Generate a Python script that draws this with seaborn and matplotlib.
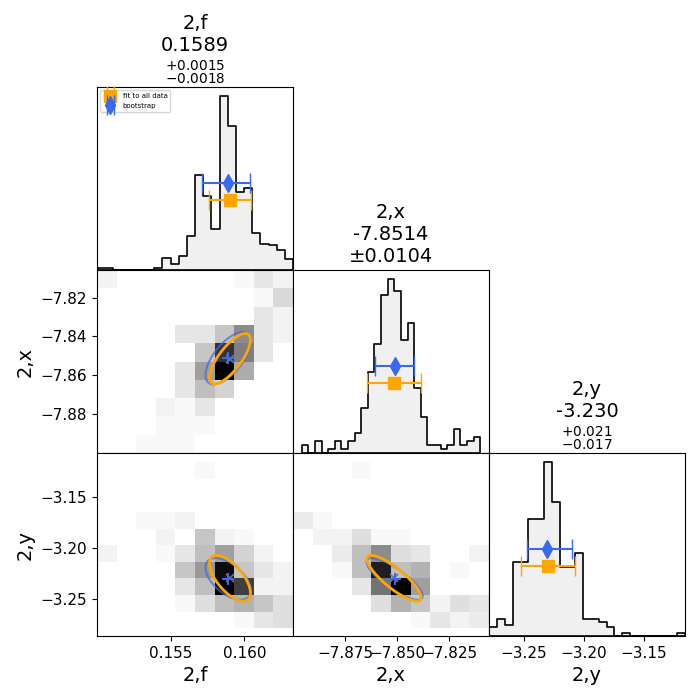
import numpy as np
import pandas as pd
import matplotlib
matplotlib.use("Agg")
import matplotlib.pyplot as plt
from matplotlib.patches import Ellipse
import seaborn as sns

# parameter names and title values
names = ["2,f", "2,x", "2,y"]
title_vals = ["0.1589", "-7.8514", "-3.230"]
title_errs = ["$^{+0.0015}_{-0.0018}$", "±0.0104", "$^{+0.021}_{-0.017}$"]

# axis ranges
lims = [(0.14995, 0.16332), (-7.9001, -7.8058), (-3.2789, -3.1156)]
row3_ylim = (-3.2866, -3.1066)
hist_ranges = [(0.14995, 0.16332), (-7.8959, -7.8100), (-3.2789, -3.1156)]

# tick values
xticks = [[0.155, 0.160], [-7.875, -7.850, -7.825], [-3.25, -3.20, -3.15]]
yticks = {1: [-7.88, -7.86, -7.84, -7.82], 2: [-3.25, -3.20, -3.15]}

# 1D histogram counts (diagonal)
f_counts = [2, 2, 0, 0, 0, 0, 0, 2, 10, 5, 12, 29, 81, 63, 35, 149, 123, 67, 70, 32, 22, 21, 17, 9]
x_counts = [2, 0, 3, 0, 1, 3, 1, 3, 5, 11, 20, 27, 39, 43, 40, 28, 32, 16, 9, 2, 2, 1, 2, 6, 2, 3, 4]
y_counts = [3, 6, 4, 26, 26, 41, 41, 61, 47, 24, 24, 29, 6, 6, 5, 3, 0, 1, 0, 0, 0, 0, 0, 0, 1]

# 2D histogram counts, rows from top (high) to bottom (low)
fx_counts = [
    [2, 0, 0, 0, 0, 0, 0, 1, 4, 2],
    [0, 0, 0, 0, 0, 0, 0, 0, 1, 6],
    [0, 0, 0, 0, 0, 0, 0, 0, 4, 2],
    [0, 0, 0, 0, 4, 4, 9, 18, 4, 2],
    [0, 0, 0, 0, 0, 9, 32, 20, 4, 0],
    [0, 0, 0, 0, 4, 15, 40, 13, 0, 0],
    [0, 0, 0, 0, 4, 10, 7, 0, 0, 0],
    [0, 0, 0, 2, 1, 4, 0, 0, 0, 0],
    [0, 0, 0, 1, 1, 1, 0, 0, 0, 0],
    [0, 0, 1, 1, 1, 0, 0, 0, 0, 0],
]
fy_counts = [
    [0, 0, 0, 0, 0, 1, 0, 0, 0, 0],
    [0, 0, 0, 0, 0, 0, 0, 0, 0, 0],
    [0, 0, 0, 0, 0, 0, 0, 0, 0, 0],
    [0, 0, 1, 1, 2, 0, 0, 0, 0, 0],
    [0, 0, 0, 2, 0, 9, 2, 1, 0, 0],
    [2, 0, 0, 1, 4, 10, 15, 7, 2, 0],
    [0, 0, 0, 0, 9, 16, 38, 9, 4, 2],
    [0, 0, 0, 0, 4, 10, 40, 30, 2, 2],
    [0, 0, 0, 0, 1, 5, 10, 12, 9, 5],
    [0, 0, 0, 0, 0, 0, 0, 1, 4, 5],
]
xy_counts = [
    [0, 0, 0, 1, 0, 0, 0, 0, 0, 0],
    [0, 0, 0, 0, 0, 0, 0, 0, 0, 0],
    [0, 0, 0, 0, 0, 0, 0, 0, 0, 0],
    [3, 1, 0, 0, 0, 0, 0, 0, 0, 0],
    [0, 2, 2, 5, 1, 1, 0, 0, 0, 0],
    [0, 0, 3, 10, 18, 5, 4, 0, 0, 2],
    [0, 0, 1, 10, 35, 10, 12, 0, 1, 0],
    [0, 0, 0, 4, 22, 40, 15, 0, 0, 0],
    [0, 0, 0, 0, 5, 12, 9, 2, 5, 4],
    [0, 0, 0, 0, 0, 0, 1, 4, 2, 3],
]

# fit to all data (orange) and bootstrap (blue)
fit_val = [0.15902, -7.8515, -3.2298]
fit_err = [0.00140, 0.0130, 0.0225]
boot_val = [0.15890, -7.8512, -3.2305]
boot_lo = [0.0018, 0.0094, 0.017]
boot_hi = [0.0015, 0.0095, 0.021]
boot_sig = [0.00155, 0.0135, 0.0205]
fit_corr = {(1, 0): 0.75, (2, 0): -0.65, (2, 1): -0.84}
boot_corr = {(1, 0): 0.65, (2, 0): -0.55, (2, 1): -0.82}

BLUE = "#3a68f2"
ORANGE = "orange"


def cov_ellipse(ax, cx, cy, sx, sy, rho, **kw):
    cov = np.array([[sx**2, rho * sx * sy], [rho * sx * sy, sy**2]])
    vals, vecs = np.linalg.eigh(cov)
    ang = np.degrees(np.arctan2(vecs[1, 1], vecs[0, 1]))
    e = Ellipse((cx, cy), 2 * np.sqrt(vals[1]), 2 * np.sqrt(vals[0]), angle=ang,
                fill=False, **kw)
    ax.add_patch(e)


fig, axes = plt.subplots(3, 3, figsize=(7, 7))
fig.subplots_adjust(left=0.1386, right=0.9786, bottom=0.0914, top=0.8757,
                    wspace=0, hspace=0)

counts_1d = [f_counts, x_counts, y_counts]
counts_2d = {(1, 0): fx_counts, (2, 0): fy_counts, (2, 1): xy_counts}

for i in range(3):
    for j in range(3):
        ax = axes[i, j]
        if j > i:
            ax.axis("off")
            continue
        if i == j:
            c = np.array(counts_1d[i], dtype=float)
            edges = np.linspace(*hist_ranges[i], len(c) + 1)
            df = pd.DataFrame({"v": (edges[:-1] + edges[1:]) / 2, "w": c})
            sns.histplot(data=df, x="v", weights="w", bins=list(edges), element="step",
                         fill=True, color="#f0f0f0", alpha=1, edgecolor="black",
                         linewidth=1.2, ax=ax)
            ymax = c.max()
            ax.errorbar(fit_val[i], 0.4 * ymax, xerr=fit_err[i], fmt="s", color=ORANGE,
                        ms=8, capsize=7, elinewidth=1.5, capthick=1.0,
                        label="fit to all data")
            ax.errorbar(boot_val[i], 0.5 * ymax, xerr=[[boot_lo[i]], [boot_hi[i]]],
                        fmt="d", color=BLUE, ms=9, capsize=7, elinewidth=1.5,
                        capthick=1.0, label="bootstrap")
            ax.set_xlim(lims[i])
            ax.set_yticks([])
            ax.set_ylabel("")
            ax.set_title(f"{names[i]}\n{title_vals[i]}\n{title_errs[i]}", fontsize=14)
            if i == 0:
                ax.legend(loc="upper left", fontsize=5)
        else:
            C = np.array(counts_2d[(i, j)], dtype=float)[::-1]
            xe = np.linspace(*lims[j], 11)
            ye = np.linspace(*lims[i], 11)
            X, Y = np.meshgrid((xe[:-1] + xe[1:]) / 2, (ye[:-1] + ye[1:]) / 2)
            df = pd.DataFrame({"a": X.ravel(), "b": Y.ravel(), "w": C.ravel()})
            sns.histplot(data=df, x="a", y="b", weights="w", bins=[list(xe), list(ye)],
                         cmap="gray_r", vmin=0, vmax=C.max(), ax=ax)
            cov_ellipse(ax, boot_val[j], boot_val[i], boot_sig[j], boot_sig[i],
                        boot_corr[(i, j)], edgecolor="royalblue", lw=1.5, alpha=0.7)
            cov_ellipse(ax, fit_val[j], fit_val[i], fit_err[j], fit_err[i],
                        fit_corr[(i, j)], edgecolor=ORANGE, lw=2)
            ax.plot(fit_val[j], fit_val[i], "x", color="0.45", ms=6, mew=1.2)
            ax.plot(boot_val[j], boot_val[i], "+", color=BLUE, ms=8, mew=1.5)
            ax.set_xlim(lims[j])
            ax.set_ylim(row3_ylim if i == 2 else lims[i])
            ax.set_xlabel("")
            ax.set_ylabel("")

        if i == 2:
            ax.set_xticks(xticks[j])
            ax.set_xlabel(names[j], fontsize=14)
        else:
            ax.set_xticks([])
            ax.set_xlabel("")
        if j == 0 and i > 0:
            ax.set_yticks(yticks[i])
            ax.set_ylabel(names[i], fontsize=14)
        elif i != j:
            ax.set_yticks([])
        ax.tick_params(labelsize=11)

fig.savefig("out.png", dpi=100)
